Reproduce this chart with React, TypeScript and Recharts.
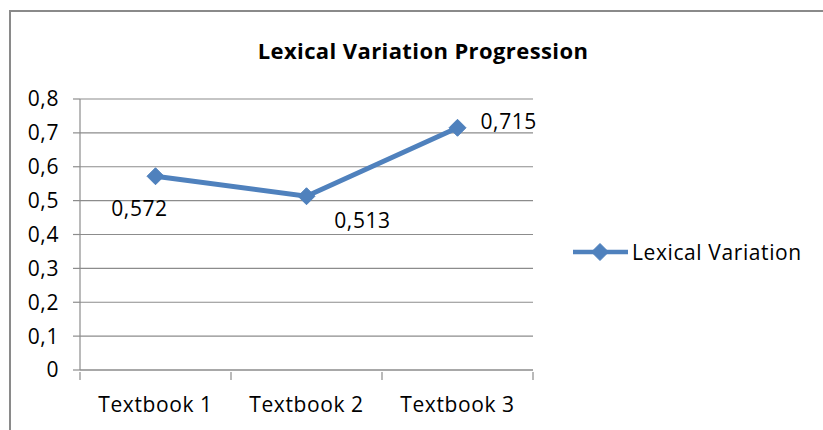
import { LineChart, Line, XAxis, YAxis, CartesianGrid, LabelList } from 'recharts'

const categories = ['Textbook 1', 'Textbook 2', 'Textbook 3']
const lexicalVariation = [0.572, 0.513, 0.715]
const yTicks = [0, 0.1, 0.2, 0.3, 0.4, 0.5, 0.6, 0.7, 0.8]

const FONT = '"Open Sans", Lato, sans-serif'
const BLUE = '#4F81BD'
const GRID = '#8c8c8c'
const FS = 21
const LS = 0.6

// label placement per point (dx, dy, anchor), like the Excel chart
const labelPlacement = [
  { dx: -16, dy: 32, anchor: 'middle' },
  { dx: 56, dy: 24, anchor: 'middle' },
  { dx: 23, dy: -7, anchor: 'start' },
]

const data = categories.map((name, i) => ({
  name,
  pos: i + 0.5,
  value: lexicalVariation[i],
}))

// half-steps so we get boundary tick marks + centered labels
const xTicks = [0, 0.5, 1, 1.5, 2, 2.5, 3]

const fmt = (v: number) => String(v).replace('.', ',')

function Diamond(props: any) {
  const { cx, cy } = props
  if (cx == null || cy == null) return null
  const r = 8.5
  return (
    <path
      d={`M${cx},${cy - r} L${cx + r},${cy} L${cx},${cy + r} L${cx - r},${cy} Z`}
      fill={BLUE}
      stroke={BLUE}
    />
  )
}

function XTick(props: any) {
  const { x, y, payload } = props
  const v = payload.value
  if (Number.isInteger(v)) {
    return <line x1={x} x2={x} y1={y} y2={y + 8} stroke={GRID} strokeWidth={1.2} />
  }
  return (
    <text x={x} y={y + 40} textAnchor="middle" fontFamily={FONT} fontSize={FS} letterSpacing={LS} fill="#000">
      {categories[Math.floor(v)]}
    </text>
  )
}

function ValueLabel(props: any) {
  const { x, y, value, index } = props
  const p = labelPlacement[index]
  return (
    <text
      x={x + p.dx}
      y={y + p.dy}
      textAnchor={p.anchor}
      dominantBaseline="central"
      fontFamily={FONT}
      fontSize={FS}
      letterSpacing={LS}
      fill="#000"
    >
      {fmt(value)}
    </text>
  )
}

export default function App() {
  return (
    <div style={{ position: 'absolute', left: 0, top: 0, width: 823, height: 430, background: '#fff', overflow: 'hidden' }}>
      <div
        style={{
          position: 'absolute',
          left: 9,
          top: 10,
          width: 830,
          height: 440,
          border: '2px solid #8a8a8a',
          boxSizing: 'border-box',
        }}
      />
      <LineChart
        width={823}
        height={430}
        data={data}
        margin={{ top: 99, right: 290, bottom: 0, left: 0 }}
        style={{ position: 'absolute', left: 0, top: 0 }}
      >
        <text x={423} y={50} textAnchor="middle" dominantBaseline="central" fontFamily={FONT} fontWeight="bold" fontSize={22} letterSpacing={0.4} fill="#000">
          Lexical Variation Progression
        </text>
        <CartesianGrid vertical={false} stroke={GRID} strokeWidth={1.2} />
        <XAxis
          dataKey="pos"
          type="number"
          domain={[0, 3]}
          ticks={xTicks}
          interval={0}
          height={60}
          axisLine={{ stroke: GRID, strokeWidth: 1.2 }}
          tickLine={false}
          tickSize={0}
          tick={<XTick />}
        />
        <YAxis
          domain={[0, 0.8]}
          ticks={yTicks}
          width={80}
          interval={0}
          axisLine={{ stroke: GRID, strokeWidth: 1.2 }}
          tickLine={{ stroke: GRID, strokeWidth: 1.2 }}
          tickSize={7}
          tickMargin={14}
          tickFormatter={fmt}
          tick={{ fontFamily: FONT, fontSize: FS, letterSpacing: LS, fill: '#000' }}
        />
        <Line
          type="linear"
          dataKey="value"
          name="Lexical Variation"
          stroke={BLUE}
          strokeWidth={5}
          dot={<Diamond />}
          activeDot={false}
          isAnimationActive={false}
        >
          <LabelList dataKey="value" content={<ValueLabel />} />
        </Line>
      </LineChart>
      {/* legend, drawn outside so it doesn't eat plot space */}
      <svg width={250} height={30} style={{ position: 'absolute', left: 570, top: 237 }}>
        <line x1={3} x2={58} y1={15} y2={15} stroke={BLUE} strokeWidth={4.5} />
        <Diamond cx={30} cy={15} />
        <text x={62} y={15} dominantBaseline="central" fontFamily={FONT} fontSize={FS} letterSpacing={LS} fill="#000">
          Lexical Variation
        </text>
      </svg>
    </div>
  )
}
